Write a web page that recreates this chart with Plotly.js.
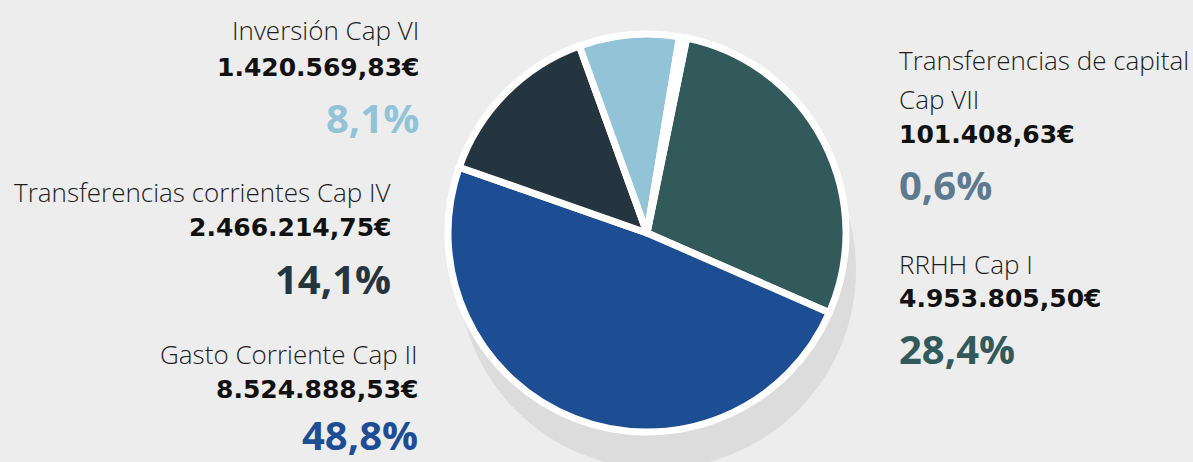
<!DOCTYPE html>
<html>
<head>
<meta charset="utf-8">
<script src="https://cdn.plot.ly/plotly-3.0.1.min.js"></script>
<style>
  html, body { margin: 0; padding: 0; background: #ededed; }
  #chart { width: 1193px; height: 462px; }
</style>
</head>
<body>
<div id="chart"></div>
<script>
// ---- data ----
const categories = ['RRHH Cap I', 'Gasto Corriente Cap II', 'Transferencias corrientes Cap IV', 'Inversión Cap VI', 'Transferencias de capital Cap VII'];
const labelLines = [['RRHH Cap I'], ['Gasto Corriente Cap II'], ['Transferencias corrientes Cap IV'], ['Inversión Cap VI'], ['Transferencias de capital', 'Cap VII']];
const values = [4953805.50, 8524888.53, 2466214.75, 1420569.83, 101408.63];
const amountText = ['4.953.805,50€', '8.524.888,53€', '2.466.214,75€', '1.420.569,83€', '101.408,63€'];
const percentText = ['28,4%', '48,8%', '14,1%', '8,1%', '0,6%'];
const colors = ['#325a5b', '#1d4e94', '#25353f', '#93c3d7', '#5e7a8e'];

// ---- layout helpers (pixel positions of label blocks) ----
const W = 1193, H = 462;
const px = x => x / W;
const py = y => 1 - y / H;
const blocks = [
  {x: 897, side: 'left',  label: [264], amount: 298, pct: 348},
  {x: 420, side: 'right', label: [354], amount: 389, pct: 434},
  {x: 393, side: 'right', label: [192], amount: 227, pct: 278},
  {x: 421, side: 'right', label: [30],  amount: 67,  pct: 117},
  {x: 897, side: 'left',  label: [60, 99], amount: 135, pct: 185}
];

const annotations = [];
blocks.forEach((b, i) => {
  labelLines[i].forEach((t, k) => {
    annotations.push({
      text: t, xref: 'paper', yref: 'paper', x: px(b.x), y: py(b.label[k]),
      xanchor: b.side, yanchor: 'middle', showarrow: false,
      font: {family: 'Open Sans, sans-serif', size: 26, weight: 300, color: '#1c1c1c'}
    });
  });
  annotations.push({
    text: amountText[i], xref: 'paper', yref: 'paper', x: px(b.x), y: py(b.amount),
    xanchor: b.side, yanchor: 'middle', showarrow: false,
    font: {family: 'DejaVu Sans, sans-serif', size: 25, weight: 700, color: '#111111'}
  });
  annotations.push({
    text: percentText[i], xref: 'paper', yref: 'paper', x: px(b.x), y: py(b.pct),
    xanchor: b.side, yanchor: 'middle', showarrow: false,
    font: {family: 'Open Sans, sans-serif', size: 40, weight: 700, color: colors[i]}
  });
});

const cx = 647, cy = 233, r = 199;

const trace = {
  type: 'pie',
  labels: categories,
  values: values,
  sort: false,
  direction: 'clockwise',
  rotation: 11.5,
  textinfo: 'none',
  hoverinfo: 'label+value+percent',
  showlegend: false,
  marker: {colors: colors, line: {color: '#ffffff', width: 7}},
  domain: {x: [px(cx - r), px(cx + r)], y: [py(cy + r), py(cy - r)]}
};

const layout = {
  width: W, height: H,
  margin: {l: 0, r: 0, t: 0, b: 0},
  paper_bgcolor: '#ededed',
  plot_bgcolor: '#ededed',
  showlegend: false,
  shapes: [{
    type: 'circle', layer: 'below', xref: 'paper', yref: 'paper',
    x0: px(cx + 10 - r), x1: px(cx + 10 + r),
    y0: py(cy + 37 + r), y1: py(cy + 37 - r),
    fillcolor: '#dcdcdc', line: {width: 0}
  }],
  annotations: annotations
};

Plotly.newPlot('chart', [trace], layout, {displayModeBar: false, staticPlot: true});
</script>
</body>
</html>
